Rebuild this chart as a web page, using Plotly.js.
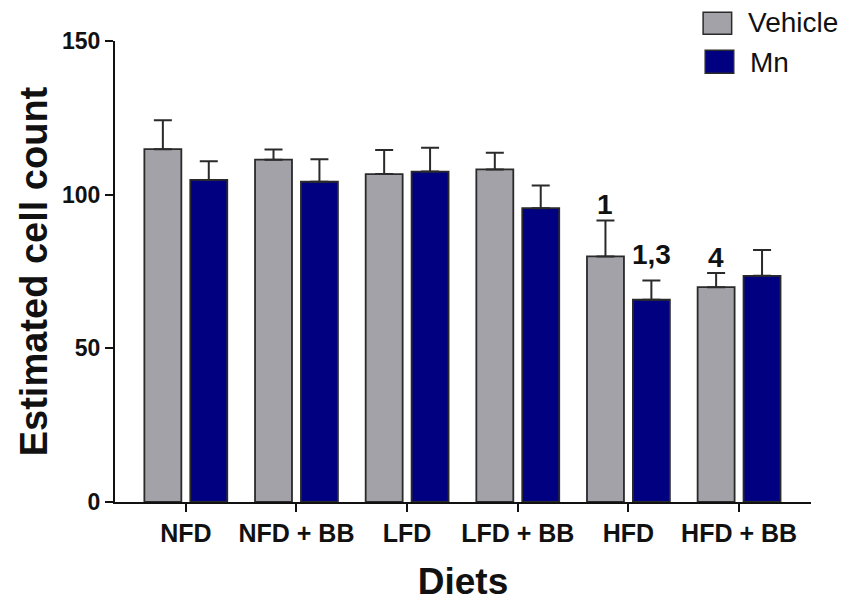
<!DOCTYPE html>
<html>
<head>
<meta charset="utf-8">
<script src="https://cdn.plot.ly/plotly-3.0.1.min.js"></script>
<style>html,body{margin:0;padding:0;background:#fff;}#chart{width:851px;height:605px;}</style>
</head>
<body>
<div id="chart"></div>
<script>
// ---- data ----
const diets = ['NFD', 'NFD + BB', 'LFD', 'LFD + BB', 'HFD', 'HFD + BB'];
const vehicleMean = [114.8, 111.4, 106.7, 108.2, 79.9, 69.9];
const vehicleErr  = [9.4, 3.3, 7.8, 5.4, 11.7, 4.6];
const mnMean      = [104.8, 104.2, 107.5, 95.6, 65.8, 73.6];
const mnErr       = [6.1, 7.3, 7.8, 7.4, 6.3, 8.4];
const seriesNames = ['Vehicle', 'Mn'];
const yTicks = [0, 50, 100, 150];
// significance labels: [category index, series index, text]
const sigCat = [4, 4, 5];
const sigSeries = [0, 1, 0];
const sigText = ['1', '1,3', '4'];

const FONT = 'Liberation Sans, Arial, sans-serif';
const colors = ['#a3a2a8', '#000080'];
const errs = [vehicleErr, mnErr];
const means = [vehicleMean, mnMean];

const traces = [0, 1].map(i => ({
  type: 'bar',
  name: seriesNames[i],
  x: diets,
  y: means[i],
  marker: {color: colors[i], line: {color: '#2a2a2a', width: 1.8}},
  error_y: {type: 'data', symmetric: false, array: errs[i], arrayminus: errs[i].map(() => 0),
            color: '#2a2a2a', thickness: 2, width: 9},
  showlegend: false,
  hoverinfo: 'skip'
}));

const annotations = sigText.map((t, k) => {
  const c = sigCat[k], s = sigSeries[k];
  const top = means[s][c] + errs[s][c];
  return {
    x: diets[c], y: top, xref: 'x', yref: 'y',
    xshift: s === 0 ? -23 : 23,
    yshift: (t === '1,3') ? 8 : -2,
    text: t, showarrow: false, yanchor: 'bottom',
    font: {family: FONT, size: 28, weight: 'bold', color: '#111'}
  };
});

// manual legend
const legendShapes = [
  {type: 'rect', xref: 'paper', yref: 'paper', x0: 0.845, x1: 0.886, y0: 1.0145, y1: 1.0622,
   fillcolor: colors[0], line: {color: '#2a2a2a', width: 1.5}},
  {type: 'rect', xref: 'paper', yref: 'paper', x0: 0.848, x1: 0.889, y0: 0.930, y1: 0.980,
   fillcolor: colors[1], line: {color: '#2a2a2a', width: 1.5}}
];
annotations.push(
  {xref: 'paper', yref: 'paper', x: 0.906, y: 1.0405, xanchor: 'left', yanchor: 'middle',
   text: seriesNames[0], showarrow: false, font: {family: FONT, size: 28, color: '#111'}},
  {xref: 'paper', yref: 'paper', x: 0.909, y: 0.954, xanchor: 'left', yanchor: 'middle',
   text: seriesNames[1], showarrow: false, font: {family: FONT, size: 28, color: '#111'}}
);

const layout = {
  width: 851, height: 605,
  margin: {l: 115, r: 40, t: 41, b: 103},
  paper_bgcolor: '#fff', plot_bgcolor: '#fff',
  barmode: 'group', bargap: 0.17, bargroupgap: 0.195,
  showlegend: false,
  font: {family: FONT, color: '#111'},
  xaxis: {
    type: 'category', range: [-0.64, 5.65],
    showline: true, linecolor: '#111', linewidth: 2,
    ticks: 'outside', ticklen: 8, tickwidth: 2, tickcolor: '#111',
    showgrid: false, zeroline: false,
    tickfont: {family: FONT, size: 25, weight: 'bold', color: '#111'},
    title: {text: 'Diets', standoff: 22, font: {family: FONT, size: 37, weight: 'bold', color: '#111'}}
  },
  yaxis: {
    range: [0, 150], tickvals: yTicks, ticktext: yTicks.map(String),
    showline: true, linecolor: '#111', linewidth: 2,
    ticks: 'outside', ticklen: 8, tickwidth: 2, tickcolor: '#111',
    showgrid: false, zeroline: false,
    tickfont: {family: FONT, size: 23, weight: 'bold', color: '#111'},
    title: {text: 'Estimated cell count', standoff: 3, font: {family: FONT, size: 38, weight: 'bold', color: '#111'}}
  },
  shapes: legendShapes,
  annotations: annotations
};

Plotly.newPlot('chart', traces, layout, {displayModeBar: false, staticPlot: true});
</script>
</body>
</html>
